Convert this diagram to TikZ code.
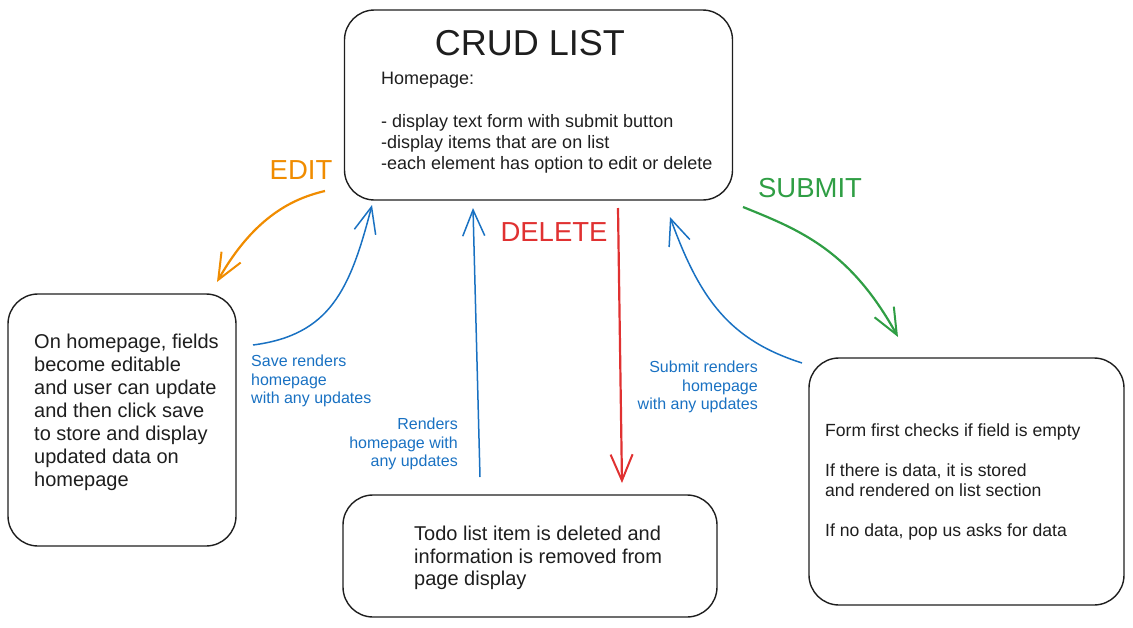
\documentclass[tikz,border=0pt]{standalone}
\usepackage{fontspec}
\setmainfont{Liberation Sans}
\usetikzlibrary{arrows.meta}
\definecolor{ink}{HTML}{1E1E1E}
\definecolor{eorange}{HTML}{F08C00}
\definecolor{eblue}{HTML}{1971C2}
\definecolor{ered}{HTML}{E03131}
\definecolor{egreen}{HTML}{2F9E44}
\tikzset{
  box/.style={draw=ink, line width=1.4pt, rounded corners=30pt, inner sep=0pt},
  txt/.style={text=ink, inner sep=0pt, align=left, anchor=west},
  bluetxt/.style={text=eblue, inner sep=0pt, font=\fontsize{16}{18.7}\selectfont},
  conn/.style={line width=1.5pt, -{Straight Barb[length=26pt, width=22pt, line width=1.5pt]}},
  thickconn/.style={line width=2.2pt, -{Straight Barb[length=26pt, width=22pt, line width=2pt]}},
  lbl/.style={inner sep=0pt, font=\fontsize{27.5}{30}\selectfont}
}
\begin{document}
\begin{tikzpicture}[x=1pt, y=-1pt]
\useasboundingbox (0,0) rectangle (1133,627);
% boxes
\node[box, minimum width=388pt, minimum height=190pt] (top) at (538.5,105) {};
\node[box, minimum width=228pt, minimum height=252pt] (left) at (122,420) {};
\node[box, minimum width=374pt, minimum height=122pt] (bottom) at (530,556) {};
\node[box, minimum width=315pt, minimum height=247pt] (right) at (966.5,481.5) {};
% box texts
\node[text=ink, inner sep=0pt, font=\fontsize{36}{40}\selectfont] (title) at (530,43) {CRUD LIST};
\node[txt, font=\fontsize{18}{21.2}\selectfont] (toptxt) at (381,123) {Homepage:\\[0pt]\strut\\- display text form with submit button\\-display items that are on list\\-each element has option to edit or delete};
\node[txt, font=\fontsize{20}{23}\selectfont] (lefttxt) at (34,412) {On homepage, fields\\become editable\\and user can update\\and then click save\\to store and display\\updated data on\\homepage};
\node[txt, font=\fontsize{20}{22.5}\selectfont] (bottxt) at (414,558) {Todo list item is deleted and\\information is removed from\\page display};
\node[txt, font=\fontsize{17.6}{20}\selectfont] (righttxt) at (825,482) {Form first checks if field is empty\\\strut\\If there is data, it is stored\\and rendered on list section\\\strut\\If no data, pop us asks for data};
% action labels
\node[lbl, text=eorange] (edit) at (301,170) {EDIT};
\node[lbl, text=ered] (delete) at (554,232) {DELETE};
\node[lbl, text=egreen] (submit) at (810,188) {SUBMIT};
% blue labels
\node[bluetxt, align=left, anchor=west] (savelbl) at (251,381) {Save renders\\homepage\\with any updates};
\node[bluetxt, align=right, anchor=east] (renderlbl) at (458,444) {Renders\\homepage with\\any updates};
\node[bluetxt, align=right, anchor=east] (submitlbl) at (758,387) {Submit renders\\homepage\\with any updates};
% connector end points
\coordinate (eS) at (325,191);
\coordinate (eE) at (217,282);
\coordinate (sS) at (253,345);
\coordinate (sE) at (372,205);
\coordinate (rS) at (480,477);
\coordinate (rE) at (473,208);
\coordinate (dS) at (618,208);
\coordinate (dE) at (622,483);
\coordinate (uS) at (802,363);
\coordinate (uE) at (670,217);
\coordinate (gS) at (743,207);
\coordinate (gE) at (898,337);
% connectors
\draw[thickconn, eorange] (eS) .. controls (295,198) and (255,215) .. (eE);
\draw[conn, eblue] (sS) .. controls (330,335) and (350,290) .. (sE);
\draw[conn, eblue] (rS) -- (rE);
\draw[thickconn, ered] (dS) -- (dE);
\draw[conn, eblue] (uS) .. controls (730,340) and (700,300) .. (uE);
\draw[thickconn, egreen] (gS) .. controls (800,230) and (850,250) .. (gE);
\end{tikzpicture}
\end{document}
